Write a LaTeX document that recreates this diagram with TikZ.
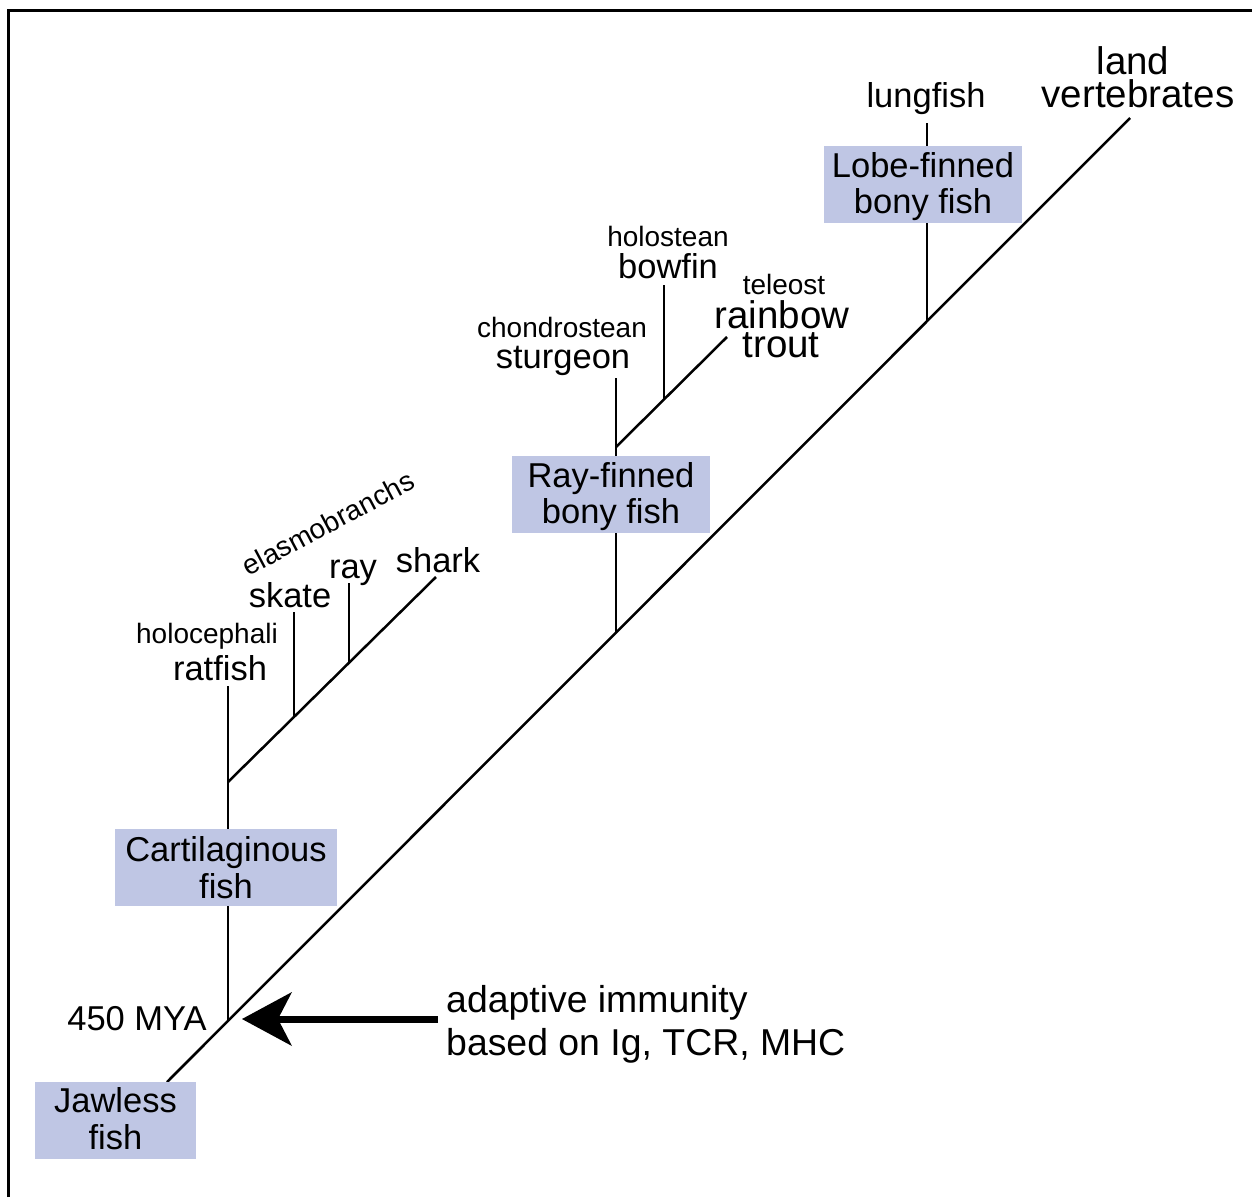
\documentclass[tikz,border=0pt]{standalone}
\usepackage{fontspec}
\setmainfont{Liberation Sans}
\usetikzlibrary{arrows.meta}
\definecolor{boxblue}{RGB}{191,198,228}
\begin{document}
\begin{tikzpicture}[x=1pt,y=-1pt,
  lbl/.style={inner sep=0pt, anchor=base},
  mainf/.style={font=\fontsize{34.5}{37}\selectfont},
  smallf/.style={font=\fontsize{28}{30}\selectfont},
  bigf/.style={font=\fontsize{38.5}{40}\selectfont},
  arrowf/.style={font=\fontsize{37.4}{41}\selectfont},
  taxbox/.style={fill=boxblue, inner sep=0pt, minimum height=77pt},
  tree/.style={line width=2.5pt},
  bigarrow/.style={line width=7pt, -{Stealth[length=50pt,width=54pt,inset=14pt,line width=0pt]}},
]
\useasboundingbox (0,0) rectangle (1252,1197);
\draw[line width=3pt] (8.5,1197) -- (8.5,10) -- (1252,10);

% tree points
\coordinate (root) at (167,1082);
\coordinate (topend) at (1130,118);
\coordinate (jaw) at (228,1021);
\coordinate (ratfishtop) at (228,686);
\coordinate (elasmo) at (228,782);
\coordinate (sharktop) at (436,577);
\coordinate (skatebase) at (294,717);
\coordinate (skatetop) at (294,612);
\coordinate (raybase) at (349,662);
\coordinate (raytop) at (349,583);
\coordinate (rayfinbase) at (616,633);
\coordinate (sturgeontop) at (616,378);
\coordinate (actino) at (616,447);
\coordinate (trouttop) at (727,337);
\coordinate (bowfinbase) at (664,399);
\coordinate (bowfintop) at (664,285);
\coordinate (lobebase) at (927,320);
\coordinate (lungtop) at (927,123);
\coordinate (arrowtip) at (242,1019);
\coordinate (arrowstart) at (438,1019);

% tree lines
\draw[tree] (root) -- (topend);
\draw[tree] (jaw) -- (ratfishtop);
\draw[tree] (elasmo) -- (sharktop);
\draw[tree] (skatebase) -- (skatetop);
\draw[tree] (raybase) -- (raytop);
\draw[tree] (rayfinbase) -- (sturgeontop);
\draw[tree] (actino) -- (trouttop);
\draw[tree] (bowfinbase) -- (bowfintop);
\draw[tree] (lobebase) -- (lungtop);

% boxes
\node[taxbox, minimum width=198pt] (lobe) at (923,184.5) {};
\node[lbl,mainf] (lobe1) at (923,177) {Lobe-finned};
\node[lbl,mainf] (lobe2) at (923,213) {bony fish};
\node[taxbox, minimum width=198pt] (rayfin) at (611,494.5) {};
\node[lbl,mainf] (rayfin1) at (611,487) {Ray-finned};
\node[lbl,mainf] (rayfin2) at (611,523) {bony fish};
\node[taxbox, minimum width=222pt] (cart) at (226,867.5) {};
\node[lbl,mainf] (cart1) at (226,861) {Cartilaginous};
\node[lbl,mainf] (cart2) at (226,898) {fish};
\node[taxbox, minimum width=161pt] (jawless) at (115.5,1120.5) {};
\node[lbl,mainf] (jawless1) at (115.5,1112) {Jawless};
\node[lbl,mainf] (jawless2) at (115.5,1149) {fish};

% labels
\node[lbl,bigf] (land) at (1133,74) {land};
\node[lbl,bigf] (vert) at (1138,107) {vertebrates};
\node[lbl,mainf] (lung) at (926,107) {lungfish};
\node[lbl,smallf] (holost) at (668,246) {holostean};
\node[lbl,mainf] (bowfin) at (668,278) {bowfin};
\node[lbl,smallf] (tele) at (784,294) {teleost};
\node[lbl,bigf] (rainbow) at (782,328) {rainbow};
\node[lbl,bigf] (trout) at (781,357) {trout};
\node[lbl,smallf] (chondro) at (562,337) {chondrostean};
\node[lbl,mainf] (sturg) at (563,368) {sturgeon};
\node[smallf, inner sep=0pt, rotate=28] (elasmolbl) at (328,523) {elasmobranchs};
\node[lbl,mainf] (skate) at (290,607) {skate};
\node[lbl,mainf] (ray) at (353,578) {ray};
\node[lbl,mainf] (shark) at (438,572) {shark};
\node[lbl,smallf] (holoc) at (207,643) {holocephali};
\node[lbl,mainf] (ratfish) at (220,680) {ratfish};
\node[lbl,mainf] (mya) at (137,1030) {450 MYA};
\node[lbl,arrowf,anchor=base west] (adapt1) at (446,1012) {adaptive immunity};
\node[lbl,arrowf,anchor=base west] (adapt2) at (446,1055) {based on Ig, TCR, MHC};

% arrow
\draw[bigarrow] (arrowstart) -- (arrowtip);
\end{tikzpicture}
\end{document}
